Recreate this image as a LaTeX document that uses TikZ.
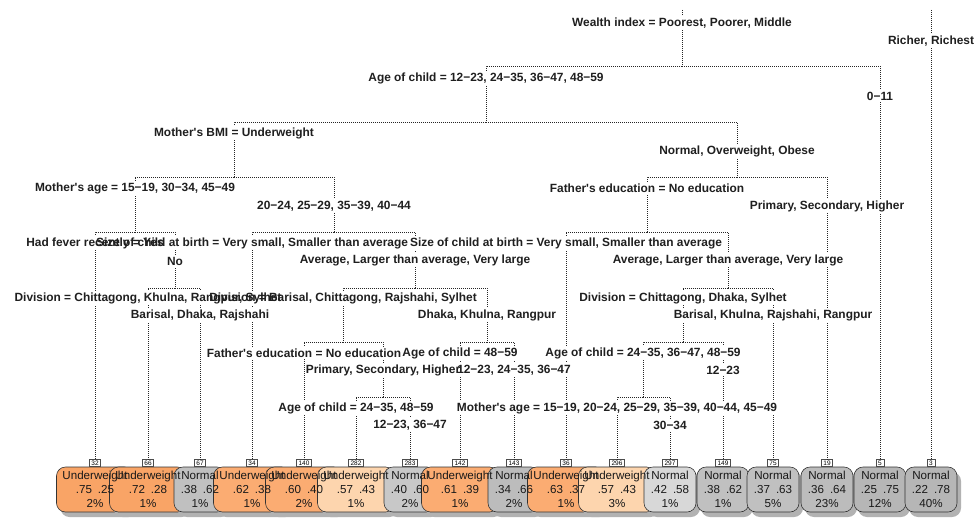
\documentclass[tikz,border=0pt]{standalone}
\usepackage{fontspec}
\setmainfont{Liberation Sans}
\newfontfamily\rpfont{Liberation Sans}[Ligatures=TeXOff]
\definecolor{uwA}{HTML}{F9A466}
\definecolor{uwB}{HTML}{FBAC72}
\definecolor{uwL}{HTML}{FDD5AE}
\definecolor{gA}{HTML}{D8D8D8}
\definecolor{gB}{HTML}{C8C8C8}
\definecolor{gC}{HTML}{C0C0C0}
\definecolor{gD}{HTML}{BCBCBC}
\definecolor{gE}{HTML}{B6B6B6}
\newcommand\leafboxdraw[8]{%
  \node[leafshadow, minimum width=#3] (S#1) at (#2+4,494.5) {};
  \node[leafbox, minimum width=#3, fill=#4] (L#1) at (#2,489.5) {};
  \node[numlab] (N#1) at (#2,463) {#1};
}
\newcommand\leaftextdraw[8]{%
  \node[leaftext] (T#1) at (#2,489.5) {#5\\#6\hspace{6pt}#7\\#8\%};
}
\newcommand\leaflist[1]{%
  #1{32}{95}{77pt}{uwA}{Underweight}{.75}{.25}{2}
  #1{66}{148}{77pt}{uwA}{Underweight}{.72}{.28}{1}
  #1{67}{200}{52pt}{gC}{Normal}{.38}{.62}{1}
  #1{34}{252}{77pt}{uwB}{Underweight}{.62}{.38}{1}
  #1{140}{304}{77pt}{uwB}{Underweight}{.60}{.40}{2}
  #1{282}{356}{77pt}{uwL}{Underweight}{.57}{.43}{1}
  #1{283}{410}{52pt}{gB}{Normal}{.40}{.60}{2}
  #1{142}{460}{77pt}{uwB}{Underweight}{.61}{.39}{1}
  #1{143}{514}{52pt}{gD}{Normal}{.34}{.66}{2}
  #1{36}{566}{77pt}{uwB}{Underweight}{.63}{.37}{1}
  #1{296}{617}{77pt}{uwL}{Underweight}{.57}{.43}{3}
  #1{297}{670}{52pt}{gA}{Normal}{.42}{.58}{1}
  #1{149}{723}{52pt}{gC}{Normal}{.38}{.62}{1}
  #1{75}{773}{52pt}{gC}{Normal}{.37}{.63}{5}
  #1{19}{827}{52pt}{gD}{Normal}{.36}{.64}{23}
  #1{5}{880}{52pt}{gE}{Normal}{.25}{.75}{12}
  #1{3}{931}{52pt}{gE}{Normal}{.22}{.78}{40}
}
\newcommand\alllabels[1]{%
  \node[#1] (#1-1a) at (682,23) {Wealth index = Poorest, Poorer, Middle};
  \node[#1] (#1-1b) at (931,41) {Richer, Richest};
  \node[#1] (#1-2a) at (486,78) {Age of child = 12−23, 24−35, 36−47, 48−59};
  \node[#1] (#1-2b) at (880,96) {0−11};
  \node[#1] (#1-4a) at (234,133) {Mother's BMI = Underweight};
  \node[#1] (#1-4b) at (737,151) {Normal, Overweight, Obese};
  \node[#1] (#1-8a) at (135,188) {Mother's age = 15−19, 30−34, 45−49};
  \node[#1] (#1-8b) at (334,206) {20−24, 25−29, 35−39, 40−44};
  \node[#1] (#1-9a) at (647,188) {Father's education = No education};
  \node[#1] (#1-9b) at (827,206) {Primary, Secondary, Higher};
  \node[#1] (#1-16a) at (95,243) {Had fever recently = Yes};
  \node[#1] (#1-16b) at (175,261) {No};
  \node[#1] (#1-17a) at (252,243) {Size of child at birth = Very small, Smaller than average};
  \node[#1] (#1-17b) at (415,260) {Average, Larger than average, Very large};
  \node[#1] (#1-18a) at (566,243) {Size of child at birth = Very small, Smaller than average};
  \node[#1] (#1-18b) at (728,260) {Average, Larger than average, Very large};
  \node[#1] (#1-33a) at (148,298) {Division = Chittagong, Khulna, Rangpur, Sylhet};
  \node[#1] (#1-33b) at (200,315) {Barisal, Dhaka, Rajshahi};
  \node[#1] (#1-35a) at (343,298) {Division = Barisal, Chittagong, Rajshahi, Sylhet};
  \node[#1] (#1-35b) at (487,315) {Dhaka, Khulna, Rangpur};
  \node[#1] (#1-37a) at (683,298) {Division = Chittagong, Dhaka, Sylhet};
  \node[#1] (#1-37b) at (773,315) {Barisal, Khulna, Rajshahi, Rangpur};
  \node[#1] (#1-70a) at (304,353) {Father's education = No education};
  \node[#1] (#1-70b) at (383,370) {Primary, Secondary, Higher};
  \node[#1] (#1-71a) at (460,353) {Age of child = 48−59};
  \node[#1] (#1-71b) at (514,370) {12−23, 24−35, 36−47};
  \node[#1] (#1-74a) at (643,353) {Age of child = 24−35, 36−47, 48−59};
  \node[#1] (#1-74b) at (723,370) {12−23};
  \node[#1] (#1-141a) at (356,408) {Age of child = 24−35, 48−59};
  \node[#1] (#1-141b) at (410,425) {12−23, 36−47};
  \node[#1] (#1-148a) at (617,408) {Mother's age = 15−19, 20−24, 25−29, 35−39, 40−44, 45−49};
  \node[#1] (#1-148b) at (670,425) {30−34};
}
\begin{document}
\begin{tikzpicture}[x=1pt,y=-1pt,
  conn/.style={line width=0.65pt, dash pattern=on 0.9pt off 1.1pt, black!85},
  lblbg/.style={fill=white, text=white, inner xsep=1pt, inner ysep=1.5pt,
    font=\rpfont\bfseries\fontsize{11.9}{13}\selectfont},
  lbltext/.style={inner xsep=1pt, inner ysep=1.5pt, text=black!88,
    font=\rpfont\bfseries\fontsize{11.9}{13}\selectfont},
  leafbox/.style={draw=black!80, line width=0.6pt, rounded corners=9pt,
    minimum height=45pt, inner sep=0pt},
  leaftext/.style={inner sep=0pt, align=center, text=black!90,
    font=\rpfont\fontsize{11.6}{14.3}\selectfont},
  leafshadow/.style={fill=black!30, rounded corners=9pt, minimum height=45pt, inner sep=0pt},
  numlab/.style={draw=black!70, fill=white, line width=0.45pt,
    font=\rpfont\fontsize{6.5}{7}\selectfont, inner xsep=2pt, inner ysep=0.5pt,
    minimum height=7pt}]
\useasboundingbox (0,0) rectangle (979,527);
\fill[white] (0,0) rectangle (979,527);

% leaves: boxes first, then their texts
\leaflist\leafboxdraw
\leaflist\leaftextdraw

% split points
\coordinate (t2) at (682,10);
\coordinate (t3) at (931,10);
\coordinate (n2) at (682,66);
\coordinate (n4) at (486,122);
\coordinate (n8) at (234,177);
\coordinate (n9) at (737,177);
\coordinate (n16) at (135,232);
\coordinate (n17) at (334,232);
\coordinate (n18) at (647,232);
\coordinate (n33) at (175,288);
\coordinate (n35) at (415,288);
\coordinate (n37) at (728,288);
\coordinate (n70) at (343,342);
\coordinate (n71) at (487,342);
\coordinate (n74) at (683,342);
\coordinate (n141) at (383,397);
\coordinate (n148) at (643,397);

% connectors
\draw[conn] (t2) -- (n2);
\draw[conn] (t3) -- (N3.north);
\draw[conn] (n2) -| (n4);  \draw[conn] (n2) -| (N5.north);
\draw[conn] (n4) -| (n8);  \draw[conn] (n4) -| (n9);
\draw[conn] (n8) -| (n16); \draw[conn] (n8) -| (n17);
\draw[conn] (n9) -| (n18); \draw[conn] (n9) -| (N19.north);
\draw[conn] (n16) -| (N32.north); \draw[conn] (n16) -| (n33);
\draw[conn] (n17) -| (N34.north); \draw[conn] (n17) -| (n35);
\draw[conn] (n18) -| (N36.north); \draw[conn] (n18) -| (n37);
\draw[conn] (n33) -| (N66.north); \draw[conn] (n33) -| (N67.north);
\draw[conn] (n35) -| (n70); \draw[conn] (n35) -| (n71);
\draw[conn] (n37) -| (n74); \draw[conn] (n37) -| (N75.north);
\draw[conn] (n70) -| (N140.north); \draw[conn] (n70) -| (n141);
\draw[conn] (n71) -| (N142.north); \draw[conn] (n71) -| (N143.north);
\draw[conn] (n74) -| (n148); \draw[conn] (n74) -| (N149.north);
\draw[conn] (n141) -| (N282.north); \draw[conn] (n141) -| (N283.north);
\draw[conn] (n148) -| (N296.north); \draw[conn] (n148) -| (N297.north);

% split labels: backgrounds first, then texts
\alllabels{lblbg}
\alllabels{lbltext}
\end{tikzpicture}
\end{document}
